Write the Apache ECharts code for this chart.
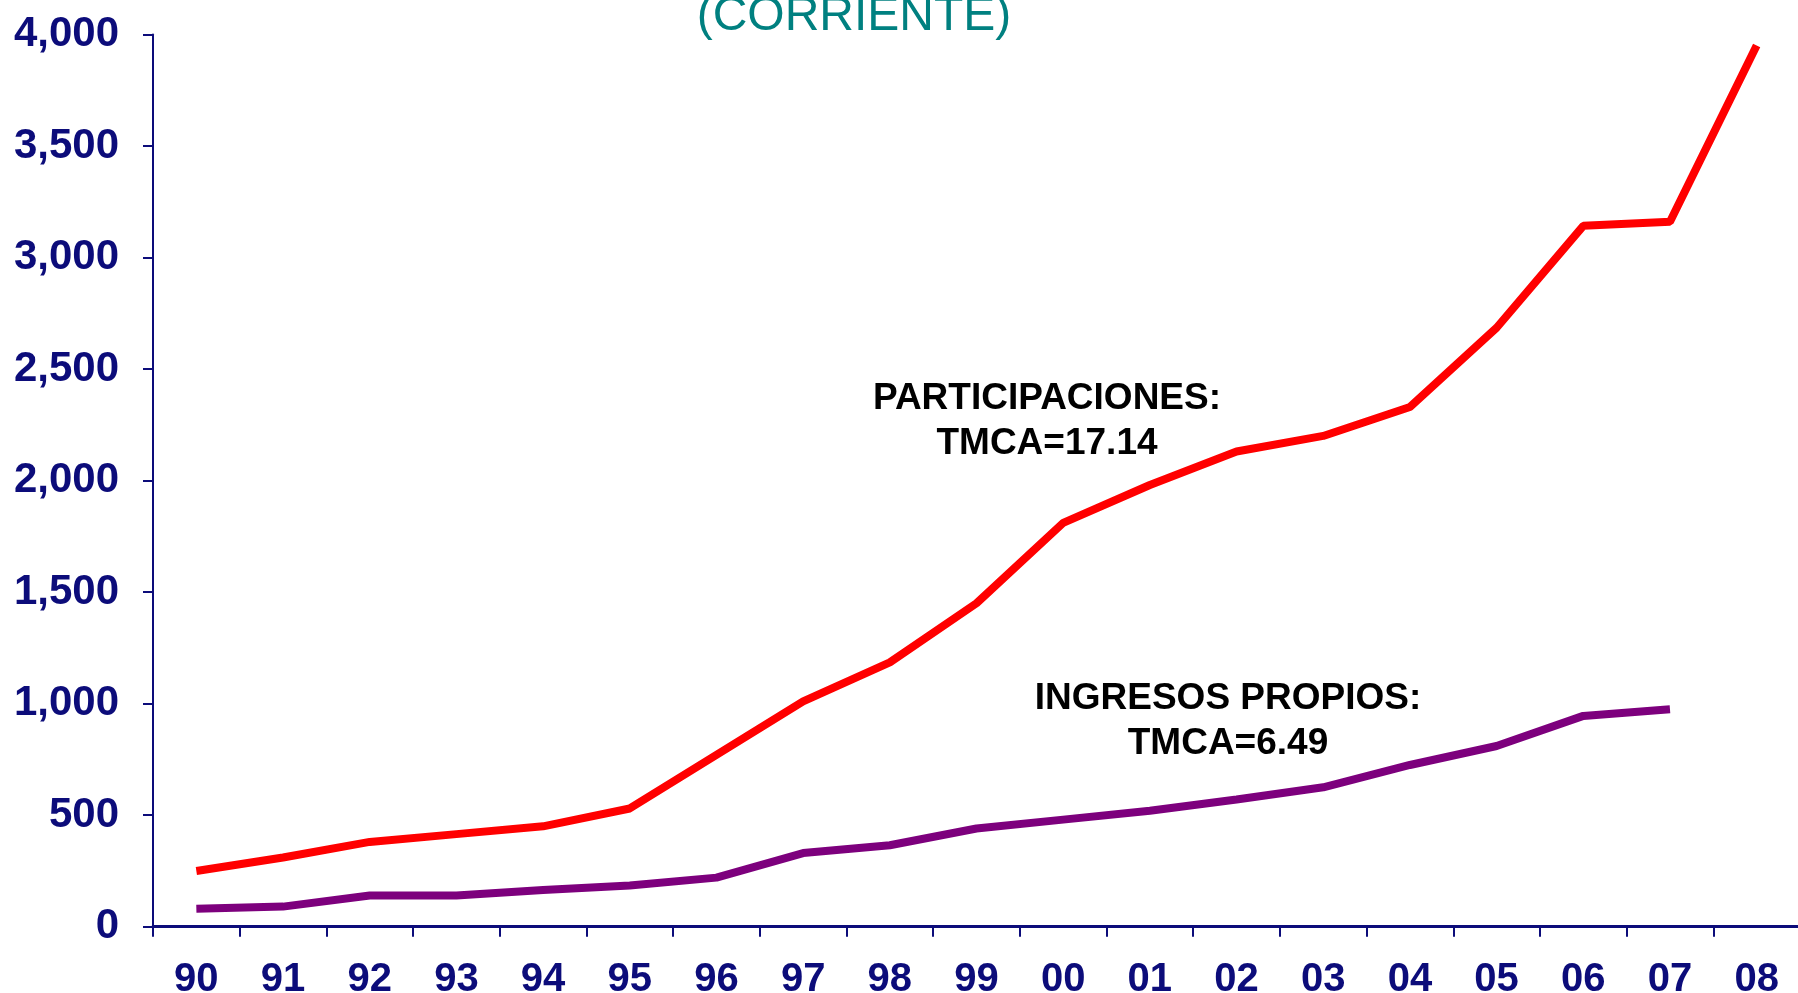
<!DOCTYPE html>
<html>
<head>
<meta charset="utf-8">
<script src="https://cdn.jsdelivr.net/npm/echarts@6/dist/echarts.min.js"></script>
<style>
html,body{margin:0;padding:0;background:#fff;}
#chart{width:1798px;height:993px;}
</style>
</head>
<body>
<div id="chart"></div>
<script>
const years = ['90','91','92','93','94','95','96','97','98','99','00','01','02','03','04','05','06','07','08'];
const participaciones = [250,310,380,415,450,530,770,1010,1185,1450,1810,1980,2130,2200,2330,2685,3142,3160,3950];
const ingresosPropios = [80,90,140,140,165,185,220,330,365,440,480,520,570,625,725,810,945,975,null];
const yTicks = [0,500,1000,1500,2000,2500,3000,3500,4000];
const titleText = '(CORRIENTE)';
const noteParticipaciones = ['PARTICIPACIONES:','TMCA=17.14'];
const noteIngresos = ['INGRESOS PROPIOS:','TMCA=6.49'];

const navy = '#0c0c7a';
const font = '"Liberation Sans", Arial, sans-serif';
const chart = echarts.init(document.getElementById('chart'), null, {renderer:'canvas'});

function note(x, y, s){
  return {type:'text', x:x, y:y, style:{text:s, fill:'#000', font:'bold 37px ' + font, textAlign:'center', textVerticalAlign:'middle'}};
}

chart.setOption({
  animation:false,
  backgroundColor:'#ffffff',
  grid:{left:153, right:-2, top:34.4, bottom:66.3, containLabel:false, outerBoundsMode:'none'},
  xAxis:{
    type:'category',
    data:years,
    boundaryGap:true,
    axisLine:{show:true, lineStyle:{color:navy, width:3}},
    axisTick:{show:true, alignWithLabel:false, length:10, lineStyle:{color:navy, width:2}},
    axisLabel:{color:navy, fontSize:40, fontWeight:'bold', fontFamily:font, margin:33, interval:0},
    splitLine:{show:false}
  },
  yAxis:{
    type:'value',
    min:0, max:4000, interval:500,
    axisLine:{show:true, lineStyle:{color:navy, width:2}},
    axisTick:{show:true, length:10, lineStyle:{color:navy, width:2}},
    axisLabel:{color:navy, fontSize:42, fontWeight:'bold', fontFamily:font, margin:34,
      formatter:function(v){ return yTicks.indexOf(v) >= 0 ? v.toLocaleString('en-US') : ''; }},
    splitLine:{show:false}
  },
  series:[
    {type:'line', name:'Participaciones', data:participaciones, symbol:'none', lineStyle:{color:'#ff0000', width:8}, z:3},
    {type:'line', name:'Ingresos propios', data:ingresosPropios, symbol:'none', lineStyle:{color:'#7d007d', width:8}, z:2}
  ],
  graphic:[
    {type:'text', x:854, y:17, style:{text:titleText, fill:'#008080', font:'48px ' + font, textAlign:'center', textVerticalAlign:'middle'}},
    note(1047, 399, noteParticipaciones[0]),
    note(1047, 444, noteParticipaciones[1]),
    note(1228, 699, noteIngresos[0]),
    note(1228, 744, noteIngresos[1])
  ]
});
</script>
</body>
</html>
